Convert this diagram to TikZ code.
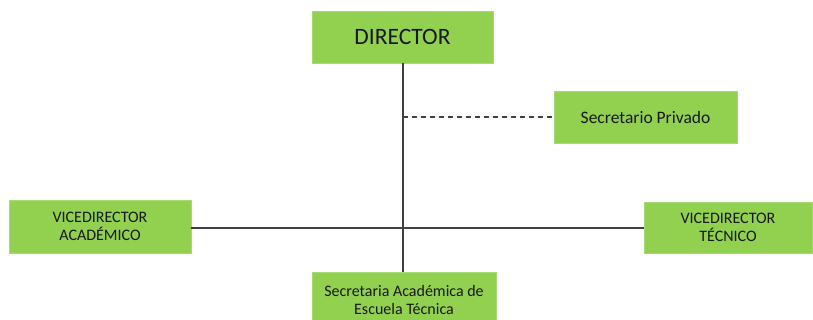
\documentclass[tikz,border=0pt]{standalone}
\usepackage{fontspec}
\setmainfont{Carlito}
\definecolor{boxgreen}{HTML}{92D050}
\definecolor{boxedge}{HTML}{A6DA74}
\definecolor{linegray}{HTML}{404040}
\begin{document}
\begin{tikzpicture}[x=1pt,y=-1pt,
  orgbox/.style={fill=boxgreen,draw=boxedge,line width=0.8pt,inner sep=0pt,align=center,text=black!90},
  conn/.style={draw=linegray,line width=1.4pt},
  dconn/.style={draw=linegray,line width=1.2pt,dash pattern=on 5pt off 4pt}]
\useasboundingbox (0,0) rectangle (813,320);
\clip (0,0) rectangle (813,320);
\node[orgbox,minimum width=181pt,minimum height=52pt,font=\fontsize{23.5}{26}\selectfont] (dir) at (402.5,37) {DIRECTOR};
\node[orgbox,minimum width=183pt,minimum height=52pt,font=\fontsize{17.5}{20}\selectfont] (sec) at (645.5,117) {Secretario Privado};
\node[orgbox,minimum width=182pt,minimum height=53pt,font=\fontsize{16}{18.5}\selectfont] (via) at (100,226.5) {VICEDIRECTOR\\ACADÉMICO};
\node[orgbox,minimum width=168pt,minimum height=51pt,font=\fontsize{16}{18.5}\selectfont] (vit) at (728,227.5) {VICEDIRECTOR\\TÉCNICO};
\node[orgbox,minimum width=184pt,minimum height=56pt,font=\fontsize{16}{18.5}\selectfont] (sat) at (404,300) {Secretaria Académica de\\Escuela Técnica};
\coordinate (cross) at (403,228);
\coordinate (dj) at (403,117);
\draw[conn] (dir.south -| cross) -- (sat.north -| cross);
\draw[conn] (via.east |- cross) -- (vit.west |- cross);
\draw[dconn] (dj) -- (sec.west);
\end{tikzpicture}
\end{document}
